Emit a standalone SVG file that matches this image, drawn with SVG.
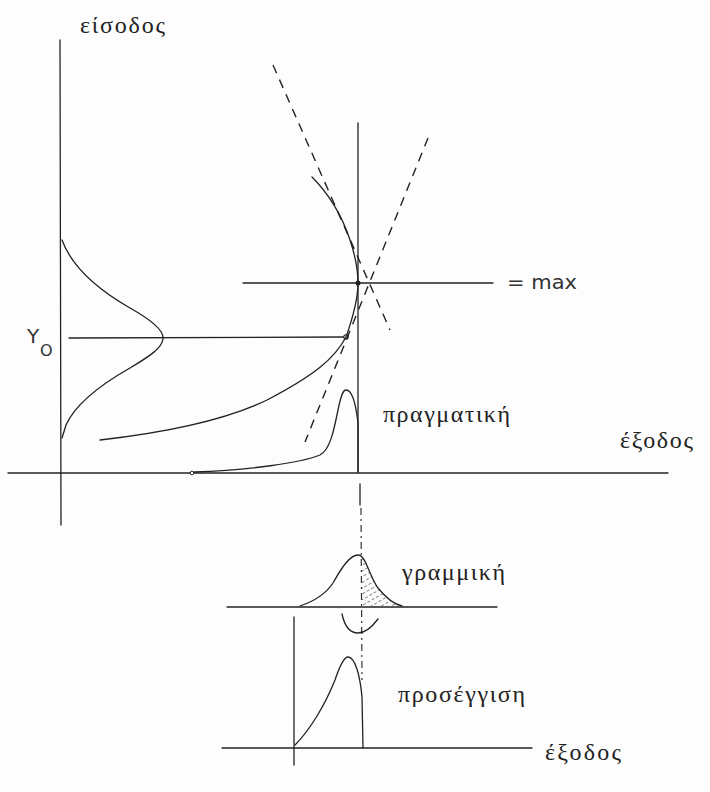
<svg xmlns="http://www.w3.org/2000/svg" width="710" height="792" viewBox="0 0 710 792">
<style>
.ln{fill:none;stroke:#222;stroke-width:1.3;stroke-linecap:round}
.ds{fill:none;stroke:#222;stroke-width:1.4;stroke-dasharray:9 7}
.dd{fill:none;stroke:#333;stroke-width:1.2;stroke-dasharray:7 4 2 4}
.gr{font-family:"Liberation Serif","DejaVu Serif",serif;font-size:24px;fill:#222}
.sn{font-family:"DejaVu Sans","Liberation Sans",sans-serif;fill:#333;font-weight:normal}
</style>
<defs>
<pattern id="hatch" width="5" height="5" patternUnits="userSpaceOnUse" patternTransform="rotate(60)">
<line x1="0" y1="0" x2="0" y2="5" stroke="#333" stroke-width="1.2" stroke-dasharray="3 2"/>
</pattern>
</defs>
<rect width="710" height="792" fill="#fdfdfd"/>
<g id="axes">
<line class="ln" x1="60" y1="40" x2="61" y2="525"/>
<line class="ln" x1="8" y1="473" x2="668" y2="473"/>
<line class="ln" x1="358" y1="123" x2="358" y2="472"/>
<line class="ln" x1="360" y1="484" x2="360" y2="505"/>
<line class="dd" x1="361" y1="508" x2="362" y2="680"/>
<line class="ln" x1="227" y1="607" x2="497" y2="607"/>
<line class="ln" x1="294" y1="617" x2="294" y2="765"/>
<line class="ln" x1="222" y1="748" x2="532" y2="748"/>
</g>
<g id="guides">
<line class="ln" x1="69" y1="338" x2="344" y2="337"/>
<circle cx="346" cy="337" r="2.2" fill="#fff" stroke="#222" stroke-width="1.1"/>
<line class="ln" x1="243" y1="283" x2="493" y2="283"/>
<circle cx="358" cy="283" r="2.5" fill="#222"/>
<line class="ds" x1="273" y1="65" x2="390" y2="330"/>
<line class="ds" x1="428" y1="138" x2="305" y2="442"/>
</g>
<g id="curves">
<path class="ln" d="M62,240 C70,262 90,285 130,308 C155,322 164,332 163,339 C162,348 150,356 130,368 C100,385 75,405 66,425 L62,438"/>
<path class="ln" d="M312,177 C325,190 340,210 350,240 C355,255 358,270 358,283 C358,300 352,320 346,337 C335,358 315,375 267,400 C230,418 170,432 100,440"/>
<circle cx="192" cy="473" r="1.8" fill="#fff" stroke="#222" stroke-width="1"/>
<path class="ln" d="M194,472 C250,470 300,463 320,455 C330,450 334,430 338,410 C341,395 343,390 346,390 C352,390 356,405 358,423 L358,472"/>
<path d="M362,557 C366,562 369,576 378,588 C386,598 393,604 402,606 L362,606 Z" fill="url(#hatch)"/>
<path class="ln" d="M300,606 C312,602 325,595 333,583 C342,567 350,555 358,555 C366,555 369,576 378,588 C386,598 393,604 402,606"/>
<path class="ln" d="M342,614 C345,628 351,633 358,633 C366,633 372,627 378,619"/>
<path class="ln" d="M295,745 C310,730 325,705 335,680 C340,665 344,657 348,657 C355,657 360,675 362,697 L363,748"/>
</g>
<g id="labels">
<text class="gr" x="80" y="33" textLength="85" lengthAdjust="spacing">είσοδος</text>
<text class="sn" x="27" y="343" font-size="20">Y</text>
<text class="sn" x="40" y="356" font-size="16">O</text>
<text class="sn" x="507" y="289" font-size="20" textLength="70" lengthAdjust="spacingAndGlyphs">= max</text>
<text class="gr" x="383" y="422" textLength="127" lengthAdjust="spacing">πραγματική</text>
<text class="gr" x="620" y="448" textLength="73" lengthAdjust="spacing">έξοδος</text>
<text class="gr" x="402" y="580" textLength="103" lengthAdjust="spacing">γραμμική</text>
<text class="gr" x="398" y="702" textLength="127" lengthAdjust="spacing">προσέγγιση</text>
<text class="gr" x="545" y="760" textLength="76" lengthAdjust="spacing">έξοδος</text>
</g>
</svg>
